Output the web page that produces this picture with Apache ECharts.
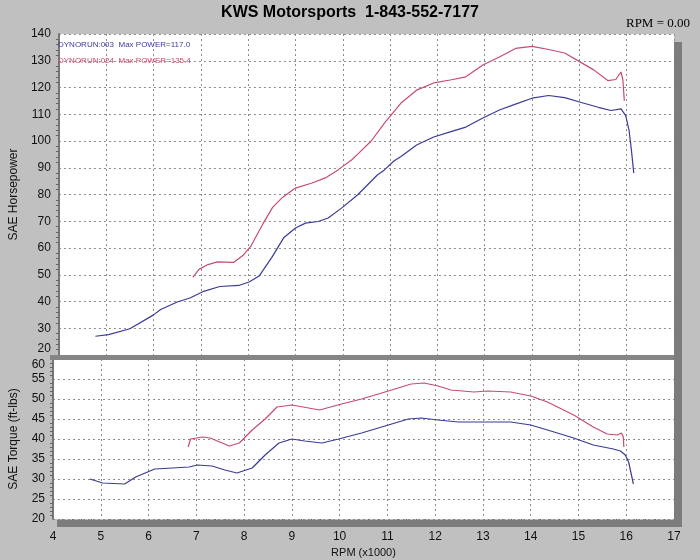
<!DOCTYPE html>
<html>
<head>
<meta charset="utf-8">
<title>KWS Motorsports dyno</title>
<script src="https://cdn.jsdelivr.net/npm/echarts@6/dist/echarts.min.js"></script>
<style>
  html, body { margin: 0; padding: 0; background: #c0c0c0; }
  #chart { width: 700px; height: 560px; }
</style>
</head>
<body>
<div id="chart"></div>
<script>
// run 003 (blue) - horsepower
var hpRpm003 = [4.77, 5.05, 5.5, 6.0, 6.15, 6.5, 6.77, 7.06, 7.4, 7.8, 8.02, 8.23, 8.5, 8.75, 9.0, 9.21, 9.48, 9.69, 9.98, 10.31, 10.73, 10.88, 11.08, 11.23, 11.56, 11.92, 12.27, 12.6, 12.96, 13.31, 13.65, 14.0, 14.35, 14.69, 15.04, 15.4, 15.67, 15.88, 15.98, 16.05, 16.1, 16.15];
var hp003 = [27.0, 27.6, 29.8, 35, 37, 39.8, 41.3, 43.8, 45.6, 46, 47.3, 49.5, 56.5, 63.8, 67.5, 69.3, 69.9, 71.2, 75, 79.8, 87.3, 89.2, 92.5, 94.2, 98.5, 101.5, 103.4, 105.2, 108.6, 111.6, 113.8, 116.0, 117.0, 116.2, 114.4, 112.6, 111.4, 112.0, 109.5, 104, 96.6, 88];
// run 024 (red) - horsepower
var hpRpm024 = [6.83, 6.96, 7.15, 7.35, 7.69, 7.9, 8.05, 8.31, 8.52, 8.73, 9.0, 9.35, 9.63, 9.9, 10.19, 10.31, 10.6, 10.88, 11.23, 11.56, 11.92, 12.27, 12.6, 12.96, 13.31, 13.65, 14.0, 14.35, 14.69, 15.04, 15.31, 15.6, 15.77, 15.88, 15.92, 15.95];
var hp024 = [49, 52, 53.8, 54.8, 54.6, 57.4, 60.5, 69, 75.3, 79, 82.4, 84.3, 86.2, 89.2, 93, 95, 100, 106.7, 114.2, 119, 121.7, 122.8, 124, 128.4, 131.4, 134.6, 135.4, 134.2, 132.9, 129.3, 126.5, 122.6, 123.0, 125.8, 122.8, 115];
// torque
var tqRpm003 = [4.77, 5.04, 5.5, 5.73, 6.13, 6.5, 6.85, 7.02, 7.33, 7.6, 7.85, 8.17, 8.44, 8.73, 9.0, 9.27, 9.63, 9.98, 10.46, 11.02, 11.44, 11.71, 12.06, 12.48, 13.02, 13.58, 14.0, 14.42, 14.9, 15.31, 15.73, 15.88, 15.98, 16.05, 16.15];
var tq003 = [30, 29, 28.75, 30.5, 32.5, 32.75, 33, 33.5, 33.25, 32.25, 31.5, 32.75, 36, 39, 40, 39.5, 39, 40, 41.5, 43.5, 45, 45.25, 44.75, 44.25, 44.25, 44.25, 43.5, 42, 40.25, 38.5, 37.5, 37, 36, 34.25, 28.75];
var tqRpm024 = [6.83, 6.88, 7.13, 7.29, 7.69, 7.9, 8.17, 8.44, 8.69, 9.0, 9.35, 9.58, 10.04, 10.46, 11.02, 11.5, 11.77, 12.06, 12.33, 12.81, 13.1, 13.58, 14.0, 14.35, 14.9, 15.31, 15.6, 15.81, 15.9, 15.94, 15.95];
var tq024 = [38, 40, 40.5, 40.25, 38.25, 39, 42.25, 45, 48, 48.5, 47.75, 47.25, 48.75, 50, 52, 53.75, 54, 53.25, 52.25, 51.75, 52, 51.75, 50.75, 49.25, 46, 43, 41.25, 41, 41.5, 40.5, 38];

var run003 = 'DYNORUN:003  Max POWER=117.0';
var run024 = 'DYNORUN:024  Max POWER=135.4';
var blue = '#3b3b98';
var red = '#c74c6e';

function pairs(xs, ys) {
  return xs.map(function (x, i) { return [x, ys[i]]; });
}

var gridLine = { show: true, lineStyle: { color: '#8c8c8c', type: [2, 3], width: 1 } };
var axisFont = { color: '#111', fontFamily: 'Liberation Sans, Arial', fontSize: 12 };
var nameFont = { fontFamily: 'Liberation Sans, Arial', fontSize: 12, color: '#111' };

function line(name, x, y, color, xi, yi) {
  return {
    name: name, type: 'line', xAxisIndex: xi, yAxisIndex: yi,
    data: pairs(x, y), showSymbol: false, symbol: 'none',
    lineStyle: { color: color, width: 1.2 }, itemStyle: { color: color },
    animation: false
  };
}

var chart = echarts.init(document.getElementById('chart'));
chart.setOption({
  backgroundColor: '#c0c0c0',
  animation: false,
  title: {
    text: 'KWS Motorsports  1-843-552-7177',
    left: 'center', top: 0,
    textStyle: { fontFamily: 'Liberation Sans, Arial', fontSize: 16, fontWeight: 'bold', color: '#000' }
  },
  legend: {
    orient: 'vertical', left: 53, top: 41, itemGap: 8, padding: 0,
    icon: 'none', itemWidth: 0, itemHeight: 8, selectedMode: false,
    data: [
      { name: run003, textStyle: { color: blue } },
      { name: run024, textStyle: { color: red } }
    ],
    textStyle: { fontFamily: 'Liberation Sans, Arial', fontSize: 8 }
  },
  grid: [
    { left: 50, top: 34, right: 26, height: 321, show: true, backgroundColor: '#fff', borderWidth: 0 },
    { left: 50, top: 359, right: 26, height: 160, show: true, backgroundColor: '#fff', borderWidth: 0 }
  ],
  xAxis: [
    { type: 'value', gridIndex: 0, min: 4, max: 17, interval: 1,
      axisLabel: { show: false }, axisTick: { show: false }, axisLine: { show: false },
      splitLine: gridLine },
    { type: 'value', gridIndex: 1, min: 4, max: 17, interval: 1,
      name: 'RPM (x1000)', nameLocation: 'middle', nameGap: 28,
      nameTextStyle: { fontFamily: 'Liberation Sans, Arial', fontSize: 11, color: '#111' },
      axisLabel: Object.assign({ margin: 12 }, axisFont),
      axisTick: { show: false },
      minorTick: { show: true, splitNumber: 5, length: 3, lineStyle: { color: '#666' } },
      axisLine: { show: false },
      splitLine: gridLine }
  ],
  yAxis: [
    { type: 'value', gridIndex: 0, min: 20, max: 140, interval: 10,
      name: 'SAE Horsepower', nameLocation: 'middle', nameGap: 33,
      nameTextStyle: nameFont,
      axisLabel: Object.assign({ margin: 8, verticalAlignMinLabel: 'bottom' }, axisFont),
      axisTick: { show: false },
      minorTick: { show: true, splitNumber: 5, length: 3, lineStyle: { color: '#666' } },
      axisLine: { show: true, lineStyle: { color: '#777', width: 2 } },
      splitLine: gridLine },
    { type: 'value', gridIndex: 1, min: 20, max: 60, interval: 5,
      name: 'SAE Torque (ft-lbs)', nameLocation: 'middle', nameGap: 33,
      nameTextStyle: nameFont,
      axisLabel: Object.assign({ margin: 8, verticalAlignMaxLabel: 'top' }, axisFont),
      axisTick: { show: false },
      minorTick: { show: true, splitNumber: 5, length: 3, lineStyle: { color: '#666' } },
      axisLine: { show: true, lineStyle: { color: '#777', width: 2 } },
      splitLine: gridLine }
  ],
  graphic: [
    // 3d-ish frame shadows and the band between the two plots
    { type: 'rect', shape: { x: 674, y: 42, width: 8, height: 485 }, style: { fill: '#7c7c7c' }, z: 1 },
    { type: 'rect', shape: { x: 57, y: 520, width: 625, height: 7 }, style: { fill: '#7c7c7c' }, z: 1 },
    { type: 'rect', shape: { x: 50, y: 355, width: 624, height: 5 }, style: { fill: '#858585' }, z: 10 },
    { type: 'text', right: 10, top: 17,
      style: { text: 'RPM = 0.00', font: '13px "Liberation Serif", "Times New Roman", serif', fill: '#000' } }
  ],
  series: [
    line(run003, hpRpm003, hp003, blue, 0, 0),
    line(run024, hpRpm024, hp024, red, 0, 0),
    line(run003, tqRpm003, tq003, blue, 1, 1),
    line(run024, tqRpm024, tq024, red, 1, 1)
  ]
});
window.addEventListener('resize', function () { chart.resize(); });
</script>
</body>
</html>
